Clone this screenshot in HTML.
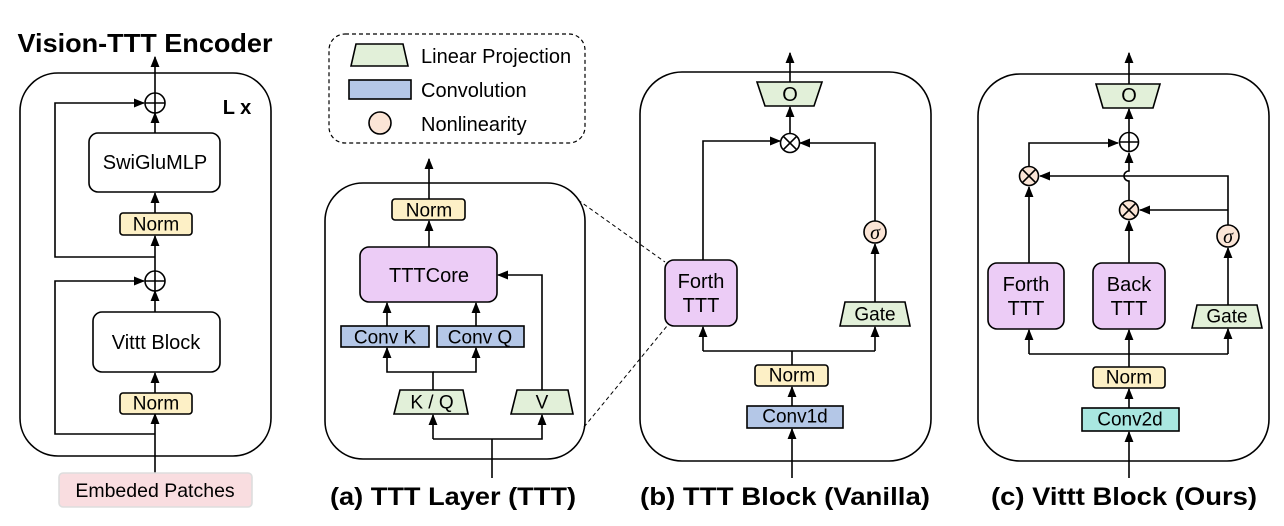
<!DOCTYPE html>
<html><head><meta charset="utf-8"><style>
html,body{margin:0;padding:0;background:#fff;}
svg{display:block;font-family:"Liberation Sans",Arial,sans-serif;}
</style></head><body>
<svg width="1284" height="526" viewBox="0 0 1284 526" xmlns="http://www.w3.org/2000/svg">
<defs>
<marker id="a" viewBox="0 0 10 10" refX="9" refY="5" markerWidth="7" markerHeight="7" orient="auto-start-reverse"><path d="M0,1 L10,5 L0,9 z" fill="#000"/></marker>
</defs>
<g stroke="#000" stroke-width="1.6" fill="none">
<rect x="20" y="73" width="251" height="383" rx="38"/>
<line x1="155" y1="507" x2="155" y2="414" marker-end="url(#a)"/>
<line x1="155" y1="393" x2="155" y2="373" marker-end="url(#a)"/>
<line x1="155" y1="312" x2="155" y2="291" marker-end="url(#a)"/>
<line x1="155" y1="271" x2="155" y2="236" marker-end="url(#a)"/>
<line x1="155" y1="213" x2="155" y2="193" marker-end="url(#a)"/>
<line x1="155" y1="133" x2="155" y2="113" marker-end="url(#a)"/>
<line x1="155" y1="93" x2="155" y2="57" marker-end="url(#a)"/>
<polyline points="155,434 55,434 55,281 144,281" marker-end="url(#a)"/>
<polyline points="155,257 55,257 55,103 144,103" marker-end="url(#a)"/>
<circle cx="155" cy="103" r="10" fill="#fff"/><path d="M145,103 H165 M155,93 V113"/>
<circle cx="155" cy="281" r="10" fill="#fff"/><path d="M145,281 H165 M155,271 V291"/>
<rect x="89" y="133" width="131" height="59" rx="9" fill="#fff"/>
<rect x="120" y="213" width="72" height="22" rx="3" fill="#fdf0c6"/>
<rect x="93" y="312" width="127" height="60" rx="9" fill="#fff"/>
<rect x="120" y="393" width="72" height="21" rx="3" fill="#fdf0c6"/>
<rect x="59" y="473" width="193" height="34" rx="4" fill="#f9dde0" stroke="#ddd"/>
<rect x="329" y="34" width="256" height="109" rx="16" stroke-dasharray="4,3" stroke-width="1.2"/>
<polygon points="351,66 356,44 403,44 408,66" fill="#e2f0d9"/>
<rect x="349" y="80" width="62" height="19" fill="#b4c7e7"/>
<circle cx="380" cy="123" r="11" fill="#fbe5d6"/>
<rect x="325" y="183" width="260" height="276" rx="38"/>
<line x1="429" y1="199" x2="429" y2="159" marker-end="url(#a)"/>
<line x1="429" y1="247" x2="429" y2="221" marker-end="url(#a)"/>
<line x1="387" y1="326" x2="387" y2="303" marker-end="url(#a)"/>
<line x1="476" y1="326" x2="476" y2="303" marker-end="url(#a)"/>
<polyline points="433,390 433,372 387,372 387,348" marker-end="url(#a)"/>
<polyline points="433,372 476,372 476,348" marker-end="url(#a)"/>
<polyline points="542,390 542,275 498,275" marker-end="url(#a)"/>
<line x1="492" y1="478" x2="492" y2="439"/>
<polyline points="433,439 433,415" marker-end="url(#a)"/>
<polyline points="433,439 542,439 542,415" marker-end="url(#a)"/>
<rect x="392" y="199" width="73" height="21" rx="3" fill="#fdf0c6"/>
<rect x="360" y="247" width="137" height="55" rx="9" fill="#ecccf6"/>
<rect x="341" y="326" width="88" height="21" fill="#b4c7e7"/>
<rect x="437" y="326" width="87" height="21" fill="#b4c7e7"/>
<polygon points="394,414 400,390 463,390 468,414" fill="#e2f0d9"/>
<polygon points="511,414 517,390 568,390 573,414" fill="#e2f0d9"/>
<line x1="578" y1="200" x2="665" y2="262" stroke-dasharray="4,3" stroke-width="1"/>
<line x1="584" y1="427" x2="667" y2="326" stroke-dasharray="4,3" stroke-width="1"/>
<rect x="640" y="72" width="291" height="389" rx="42"/>
<line x1="790" y1="82" x2="790" y2="53" marker-end="url(#a)"/>
<line x1="790" y1="134" x2="790" y2="107" marker-end="url(#a)"/>
<polyline points="703,260 703,141 780,141" marker-end="url(#a)"/>
<polyline points="875,221 875,143 800,143" marker-end="url(#a)"/>
<line x1="875" y1="302" x2="875" y2="244" marker-end="url(#a)"/>
<line x1="792" y1="365" x2="792" y2="351"/>
<polyline points="703,351 875,351"/>
<line x1="703" y1="351" x2="703" y2="327" marker-end="url(#a)"/>
<line x1="875" y1="351" x2="875" y2="327" marker-end="url(#a)"/>
<line x1="792" y1="406" x2="792" y2="387" marker-end="url(#a)"/>
<line x1="792" y1="478" x2="792" y2="429" marker-end="url(#a)"/>
<polygon points="757,82 822,82 814,106 765,106" fill="#e2f0d9"/>
<circle cx="790" cy="143" r="9.5" fill="#fff"/><path d="M783.3,136.3 L796.7,149.7 M796.7,136.3 L783.3,149.7"/>
<circle cx="875" cy="232" r="11" fill="#fbe5d6"/>
<rect x="665" y="260" width="72" height="66" rx="9" fill="#ecccf6"/>
<polygon points="840,326 845,302 905,302 910,326" fill="#e2f0d9"/>
<rect x="755" y="365" width="73" height="21" rx="3" fill="#fdf0c6"/>
<rect x="747" y="406" width="96" height="22" fill="#b4c7e7"/>
<rect x="978" y="74" width="291" height="387" rx="42"/>
<line x1="1129" y1="84" x2="1129" y2="53" marker-end="url(#a)"/>
<line x1="1129" y1="132" x2="1129" y2="109" marker-end="url(#a)"/>
<path d="M1129,200 V181 A5,5 0 0 1 1129,171 V153" marker-end="url(#a)"/>
<polyline points="1029,166 1029,143 1118,143" marker-end="url(#a)"/>
<polyline points="1228,225 1228,176 1040,176" marker-end="url(#a)"/>
<polyline points="1228,210 1140,210" marker-end="url(#a)"/>
<line x1="1029" y1="263" x2="1029" y2="187" marker-end="url(#a)"/>
<line x1="1129" y1="263" x2="1129" y2="221" marker-end="url(#a)"/>
<line x1="1228" y1="305" x2="1228" y2="248" marker-end="url(#a)"/>
<line x1="1129" y1="367" x2="1129" y2="330" marker-end="url(#a)"/>
<polyline points="1029,354 1228,354"/>
<line x1="1029" y1="354" x2="1029" y2="330" marker-end="url(#a)"/>
<line x1="1228" y1="354" x2="1228" y2="329" marker-end="url(#a)"/>
<line x1="1129" y1="408" x2="1129" y2="389" marker-end="url(#a)"/>
<line x1="1129" y1="478" x2="1129" y2="432" marker-end="url(#a)"/>
<polygon points="1096,84 1160,84 1153,108 1103,108" fill="#e2f0d9"/>
<circle cx="1129" cy="142" r="9.5" fill="#fff"/><path d="M1119.5,142 H1138.5 M1129,132.5 V151.5"/>
<circle cx="1029" cy="176" r="9.5" fill="#fbe5d6"/><path d="M1022.3,169.3 L1035.7,182.7 M1035.7,169.3 L1022.3,182.7"/>
<circle cx="1129" cy="210" r="9.5" fill="#fbe5d6"/><path d="M1122.3,203.3 L1135.7,216.7 M1135.7,203.3 L1122.3,216.7"/>
<circle cx="1228" cy="236" r="11" fill="#fbe5d6"/>
<rect x="988" y="263" width="76" height="66" rx="9" fill="#ecccf6"/>
<rect x="1093" y="263" width="72" height="66" rx="9" fill="#ecccf6"/>
<polygon points="1192,328 1197,305 1257,305 1262,328" fill="#e2f0d9"/>
<rect x="1093" y="367" width="72" height="21" rx="3" fill="#fdf0c6"/>
<rect x="1082" y="408" width="97" height="23" fill="#a9e7e0"/>
</g>
<g fill="#000" font-size="20" text-anchor="middle" dominant-baseline="central">
<text x="145" y="43" font-size="26" font-weight="bold" textLength="255" lengthAdjust="spacingAndGlyphs">Vision-TTT Encoder</text>
<text x="237" y="108" font-size="20" font-weight="bold">L x</text>
<text x="155" y="163">SwiGluMLP</text>
<text x="156" y="225" font-size="19">Norm</text>
<text x="156" y="343">Vittt Block</text>
<text x="156" y="404" font-size="19">Norm</text>
<text x="155" y="491" font-size="19.5">Embeded Patches</text>
<text x="421" y="57" text-anchor="start">Linear Projection</text>
<text x="421" y="91" text-anchor="start">Convolution</text>
<text x="421" y="125" text-anchor="start">Nonlinearity</text>
<text x="429" y="211" font-size="19">Norm</text>
<text x="429" y="276">TTTCore</text>
<text x="385" y="338" font-size="19">Conv K</text>
<text x="480" y="338" font-size="19">Conv Q</text>
<text x="432" y="403" font-size="19">K / Q</text>
<text x="542" y="403" font-size="19">V</text>
<text x="453" y="497" font-size="25" font-weight="bold" textLength="246" lengthAdjust="spacingAndGlyphs">(a) TTT Layer (TTT)</text>
<text x="790" y="95">O</text>
<text x="875" y="233" font-style="italic" font-family="Liberation Serif,serif">σ</text>
<text x="701" y="282">Forth</text>
<text x="701" y="306">TTT</text>
<text x="875" y="315" font-size="19">Gate</text>
<text x="792" y="376" font-size="19">Norm</text>
<text x="795" y="417" font-size="19">Conv1d</text>
<text x="785" y="497" font-size="25" font-weight="bold" textLength="290" lengthAdjust="spacingAndGlyphs">(b) TTT Block (Vanilla)</text>
<text x="1129" y="96">O</text>
<text x="1228" y="237" font-style="italic" font-family="Liberation Serif,serif">σ</text>
<text x="1026" y="285">Forth</text>
<text x="1026" y="309">TTT</text>
<text x="1129" y="285">Back</text>
<text x="1129" y="309">TTT</text>
<text x="1227" y="317" font-size="19">Gate</text>
<text x="1129" y="378" font-size="19">Norm</text>
<text x="1130" y="420" font-size="19">Conv2d</text>
<text x="1124" y="497" font-size="25" font-weight="bold" textLength="266" lengthAdjust="spacingAndGlyphs">(c) Vittt Block (Ours)</text>
</g>
</svg>
</body></html>
